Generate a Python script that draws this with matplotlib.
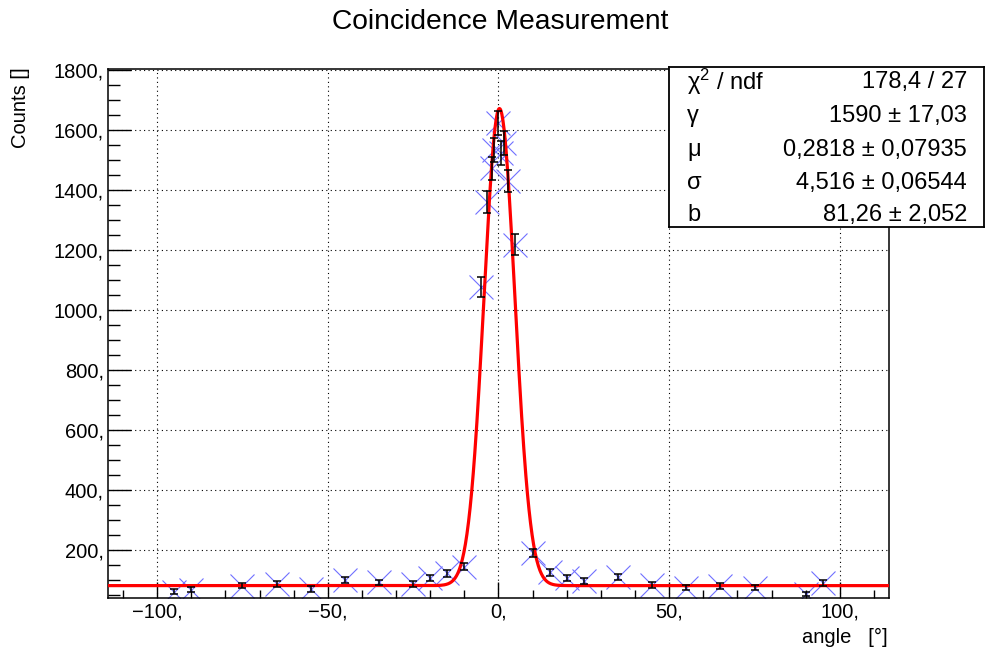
import numpy as np
import matplotlib
matplotlib.use("Agg")
import matplotlib.pyplot as plt
from matplotlib.ticker import MultipleLocator, FixedLocator, FixedFormatter

plt.rcParams['font.family'] = ['Liberation Sans', 'DejaVu Sans']
plt.rcParams['mathtext.fontset'] = 'custom'
plt.rcParams['mathtext.rm'] = 'Liberation Sans'
plt.rcParams['mathtext.it'] = 'Liberation Sans'

# measured coincidence counts vs angle
angle = [-95, -90, -75, -65, -55, -45, -35, -25, -20, -15, -10,
         -5, -3.3, -2, -1.4, 0, 0.8, 1.5, 2.7, 4.8,
         10, 15, 20, 25, 35, 45, 55, 65, 75, 90, 95]
counts = [61, 67, 81, 86, 70, 100, 92, 86, 106, 122, 144,
          1077, 1361, 1472, 1533, 1622, 1523, 1556, 1430, 1217,
          189, 126, 106, 98, 109, 83, 74, 80, 74, 53, 91]
errors = [7.8, 8.2, 9.0, 9.3, 8.4, 10.0, 9.6, 9.3, 10.3, 11.0, 12.0,
          32.8, 36.9, 38.4, 39.2, 40.3, 39.0, 39.4, 37.8, 34.9,
          13.7, 11.2, 10.3, 9.9, 10.4, 9.1, 8.6, 8.9, 8.6, 7.3, 9.5]

# fit result (gauss + constant)
fit_gamma = 1590
fit_mu = 0.2818
fit_sigma = 4.516
fit_b = 81.26

stat_names = ["\u03c7$^{2}$ / ndf", "\u03b3", "\u03bc", "\u03c3", "b"]
stat_values = ["178,4 / 27", "1590 \u00b1 17,03", "0,2818 \u00b1 0,07935",
               "4,516 \u00b1 0,06544", "81,26 \u00b1 2,052"]

xticks = [-100, -50, 0, 50, 100]
xticklabels = ["\u2212100,", "\u221250,", "0,", "50,", "100,"]
yticks = [200, 400, 600, 800, 1000, 1200, 1400, 1600, 1800]
yticklabels = [str(v) + "," for v in yticks]

W, H = 985, 653
fig = plt.figure(figsize=(W / 100, H / 100), dpi=100)
ax = fig.add_axes([108 / W, 1 - 598 / H, (889 - 108) / W, (598 - 69) / H])

xmin, xmax = -114.4, 114.4
ymin, ymax = 40, 1803

ax.plot(angle, counts, linestyle="none", marker="x", markersize=17,
        markeredgewidth=0.8, color="#7070ff", zorder=2)

xf = np.linspace(xmin, xmax, 1500)
yf = fit_gamma * np.exp(-(xf - fit_mu) ** 2 / (2 * fit_sigma ** 2)) + fit_b
ax.plot(xf, yf, color="red", linewidth=2.3, zorder=3)

ax.errorbar(angle, counts, yerr=errors, fmt="none", ecolor="black",
            elinewidth=1.1, capsize=3, capthick=1.1, zorder=4)

ax.set_xlim(xmin, xmax)
ax.set_ylim(ymin, ymax)

ax.xaxis.set_major_locator(FixedLocator(xticks))
ax.xaxis.set_major_formatter(FixedFormatter(xticklabels))
ax.xaxis.set_minor_locator(MultipleLocator(10))
ax.yaxis.set_major_locator(FixedLocator(yticks))
ax.yaxis.set_major_formatter(FixedFormatter(yticklabels))
ax.yaxis.set_minor_locator(MultipleLocator(50))

ax.tick_params(axis="x", which="major", direction="in", length=11.5, width=1, labelsize=14.5, pad=3)
ax.tick_params(axis="x", which="minor", direction="in", length=5.8, width=1)
ax.tick_params(axis="y", which="major", direction="in", length=16.6, width=1, labelsize=14.5, pad=3)
ax.tick_params(axis="y", which="minor", direction="in", length=8.4, width=1)
ax.tick_params(top=False, right=False, which="both")

ax.grid(True, which="major", color="black", linewidth=0.8, linestyle=(0, (1, 3)))
for s in ax.spines.values():
    s.set_linewidth(1.1)

fig.text(500 / W, 1 - 22 / H, "Coincidence Measurement", ha="center", va="center", fontsize=20.3)
fig.text(888 / W, 1 - 637 / H, "angle   [\u00b0]", ha="right", va="center", fontsize=14.5)
fig.text(21 / W, 1 - 67 / H, "Counts []", ha="center", va="top", rotation=90, fontsize=14.5)

# stats box
sb = fig.add_axes([669 / W, 1 - 227 / H, (984 - 669) / W, (227 - 67) / H])
sb.set_xticks([])
sb.set_yticks([])
sb.set_xlim(0, 1)
sb.set_ylim(0, 1)
for s in sb.spines.values():
    s.set_linewidth(1.3)
row_y = [82, 116, 150, 183, 215]
for name, val, yy in zip(stat_names, stat_values, row_y):
    fy = (227 - yy) / (227 - 67)
    sb.text((687 - 669) / (984 - 669), fy, name, ha="left", va="center", fontsize=17)
    sb.text((967 - 669) / (984 - 669), fy, val, ha="right", va="center", fontsize=17)

fig.savefig("out.png", dpi=100)
